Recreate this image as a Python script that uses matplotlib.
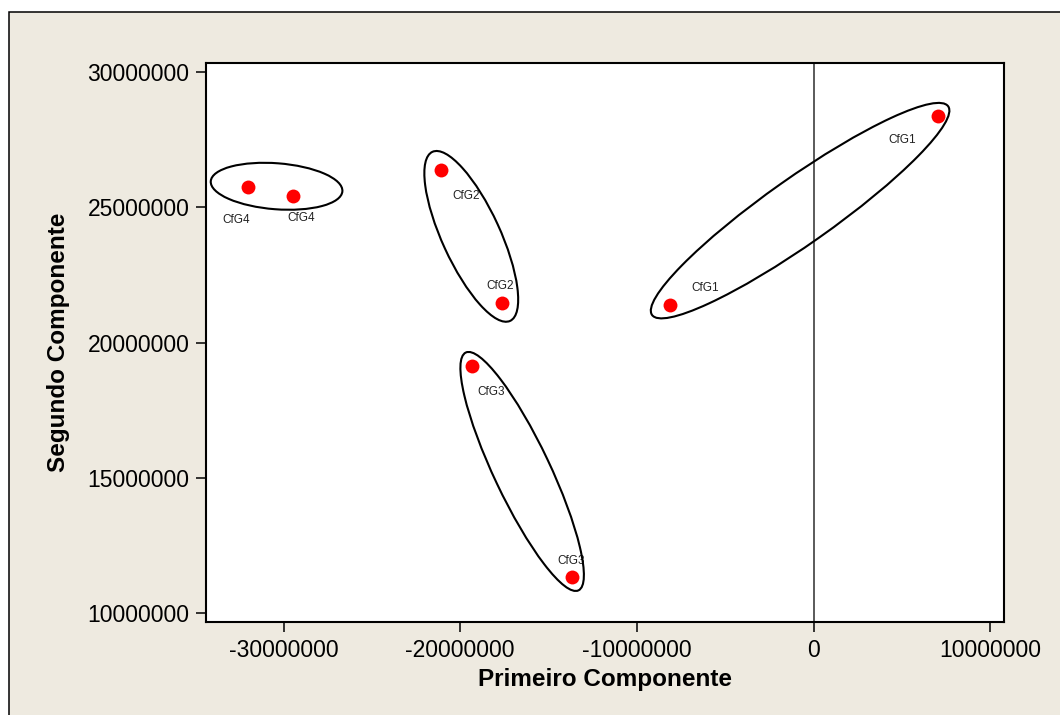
import numpy as np
import matplotlib
matplotlib.use('Agg')
import matplotlib.pyplot as plt
from matplotlib.patches import Ellipse, Rectangle
from matplotlib.transforms import IdentityTransform

plt.rcParams['font.family'] = ['Liberation Sans', 'DejaVu Sans']

# scores on the first two components, one point per sample
grupos = ['CfG1', 'CfG1', 'CfG2', 'CfG2', 'CfG3', 'CfG3', 'CfG4', 'CfG4']
primeiro = [7.06e6, -8.13e6, -21.10e6, -17.65e6, -19.32e6, -13.67e6, -31.99e6, -29.48e6]
segundo = [28.36e6, 21.38e6, 26.37e6, 21.47e6, 19.13e6, 11.35e6, 25.75e6, 25.42e6]

x_ticks = [-30000000, -20000000, -10000000, 0, 10000000]
y_ticks = [10000000, 15000000, 20000000, 25000000, 30000000]

# where each point label sits relative to its point (pixels)
label_offsets = [(-36, -24), (35, 17), (25, -26), (-2, 17),
                 (19, -26), (-1, 16), (-12, -33), (8, -22)]

# hand-drawn style ellipses around each group (pixels)
ellipse_geom = {
    'CfG1': dict(pad=17, minor=66, shift=(-4, 0)),
    'CfG2': dict(pad=20, minor=58),
    'CfG3': dict(pad=15, minor=56),
    'CfG4': dict(major=132, minor=46, angle=-4.4, shift=(6, 5)),
}

bg = '#EEEAE0'
W, H, dpi = 1060, 715, 100
fig = plt.figure(figsize=(W / dpi, H / dpi), dpi=dpi)
fig.patch.set_facecolor('white')
fig.add_artist(Rectangle((9.3 / W, -0.05), 1.1, 1 - 12.3 / H + 0.05,
                         transform=fig.transFigure, facecolor=bg,
                         edgecolor='black', lw=1.1, zorder=0))

ax = fig.add_axes([206 / W, 1 - 622.3 / H, (1004 - 206) / W, (622.3 - 63.3) / H])
ax.set_facecolor('white')
ax.set_xlim(-34.39e6, 10.78e6)
ax.set_ylim(9.67e6, 30.31e6)

ax.axvline(0, color='#4d4d4d', lw=1.3, zorder=1)
ax.plot(primeiro, segundo, 'o', color='#FF0000', markersize=10, markeredgewidth=0, zorder=3)

for g, x, y, off in zip(grupos, primeiro, segundo, label_offsets):
    ax.annotate(g, (x, y), xytext=off, textcoords='offset pixels',
                ha='center', va='center', fontsize=8.5, color='#222222')

ax.set_xticks(x_ticks)
ax.set_xticklabels([str(t) for t in x_ticks])
ax.set_yticks(y_ticks)
ax.set_yticklabels([str(t) for t in y_ticks])
ax.tick_params(direction='out', length=7, width=1.1, labelsize=16.5, color='black')
ax.tick_params(axis='x', pad=5)
ax.tick_params(axis='y', pad=5)
for s in ax.spines.values():
    s.set_linewidth(1.5)

ax.set_xlabel('Primeiro Componente', fontsize=17.5, fontweight='bold')
ax.set_ylabel('Segundo Componente', fontsize=17.5, fontweight='bold')
ax.xaxis.set_label_coords(0.5, -0.082)
ax.yaxis.set_label_coords(-0.171, 0.5)

# ellipses are built in pixel space from the group points
pts = ax.transData.transform(np.column_stack([primeiro, segundo]))
for g, geom in ellipse_geom.items():
    idx = [i for i, gg in enumerate(grupos) if gg == g]
    p0, p1 = pts[idx[0]], pts[idx[1]]
    d = p1 - p0
    centre = (p0 + p1) / 2 + np.array(geom.get('shift', (0, 0)))
    angle = geom.get('angle', np.degrees(np.arctan2(d[1], d[0])))
    major = geom.get('major', np.hypot(*d) + 2 * geom.get('pad', 0))
    fig.add_artist(Ellipse(centre, major, geom['minor'], angle=angle,
                           transform=IdentityTransform(), fill=False,
                           edgecolor='black', lw=1.5, zorder=4))

fig.savefig('out.png', dpi=dpi)
